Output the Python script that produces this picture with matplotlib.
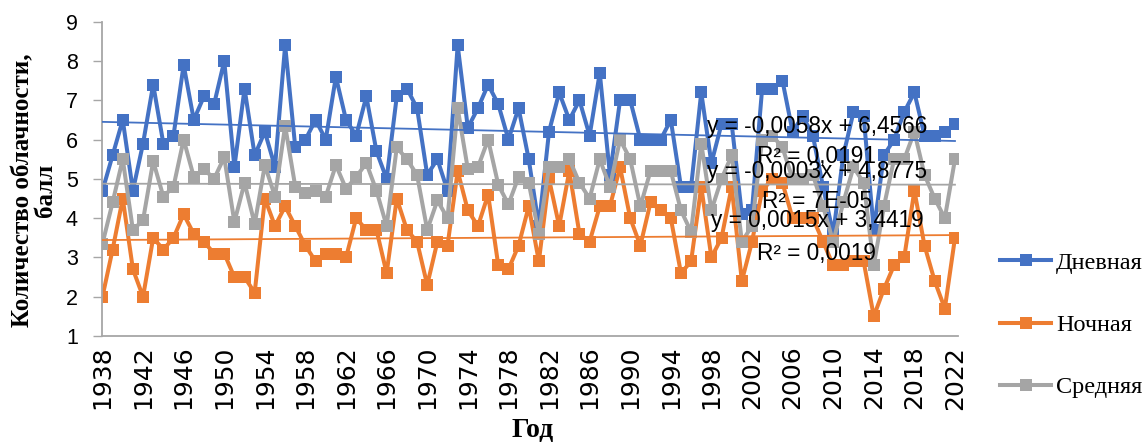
import matplotlib
matplotlib.use("Agg")
import matplotlib.pyplot as plt
import numpy as np

# Cloud cover by year, points (0-10 scale)
years = list(range(1938, 2023))

day_cloud = [
    4.7, 5.6, 6.5, 4.7, 5.9, 7.4, 5.9, 6.1, 7.9, 6.5,
    7.1, 6.9, 8.0, 5.3, 7.3, 5.6, 6.2, 5.3, 8.4, 5.8,
    6.0, 6.5, 6.0, 7.6, 6.5, 6.1, 7.1, 5.7, 5.0, 7.1,
    7.3, 6.8, 5.1, 5.5, 4.7, 8.4, 6.3, 6.8, 7.4, 6.9,
    6.0, 6.8, 5.5, 3.8, 6.2, 7.2, 6.5, 7.0, 6.1, 7.7,
    5.1, 7.0, 7.0, 6.0, 6.0, 6.0, 6.5, 4.8, 4.8, 7.2,
    5.4, 6.4, 6.4, 4.1, 4.2, 7.3, 7.3, 7.5, 6.2, 6.6,
    6.1, 4.8, 3.6, 5.6, 6.7, 6.6, 3.7, 5.6, 6.0, 6.7,
    7.2, 6.1, 6.1, 6.2, 6.4,
]

night_cloud = [
    2.0, 3.2, 4.5, 2.7, 2.0, 3.5, 3.2, 3.5, 4.1, 3.6,
    3.4, 3.1, 3.1, 2.5, 2.5, 2.1, 4.5, 3.8, 4.3, 3.8,
    3.3, 2.9, 3.1, 3.1, 3.0, 4.0, 3.7, 3.7, 2.6, 4.5,
    3.7, 3.4, 2.3, 3.4, 3.3, 5.2, 4.2, 3.8, 4.6, 2.8,
    2.7, 3.3, 4.3, 2.9, 5.0, 3.8, 5.2, 3.6, 3.4, 4.3,
    4.3, 5.3, 4.0, 3.3, 4.4, 4.2, 4.0, 2.6, 2.9, 4.8,
    3.0, 3.5, 4.8, 2.4, 3.4, 4.7, 5.0, 4.9, 4.0, 4.0,
    4.0, 3.4, 2.8, 2.8, 2.9, 2.9, 1.5, 2.2, 2.8, 3.0,
    4.7, 3.3, 2.4, 1.7, 3.5,
]

mean_cloud = [
    3.35, 4.4, 5.5, 3.7, 3.95, 5.45, 4.55, 4.8, 6.0, 5.05,
    5.25, 5.0, 5.55, 3.9, 4.9, 3.85, 5.35, 4.55, 6.35, 4.8,
    4.65, 4.7, 4.55, 5.35, 4.75, 5.05, 5.4, 4.7, 3.8, 5.8,
    5.5, 5.1, 3.7, 4.45, 4.0, 6.8, 5.25, 5.3, 6.0, 4.85,
    4.35, 5.05, 4.9, 3.6, 5.3, 5.3, 5.5, 4.9, 4.5, 5.5,
    4.8, 6.0, 5.5, 4.3, 5.2, 5.2, 5.2, 4.2, 3.65, 5.9,
    4.2, 5.0, 5.6, 3.4, 3.8, 6.0, 6.1, 5.8, 5.0, 5.0,
    5.1, 4.3, 3.4, 4.4, 5.3, 4.9, 2.8, 4.3, 5.5, 5.5,
    6.2, 5.1, 4.5, 4.0, 5.5,
]

series_names = ["Дневная", "Ночная", "Средняя"]
series_colors = ["#4472C4", "#ED7D31", "#A5A5A5"]

# Linear trends, x = 1 for the first year
trend_slope = [-0.0058, 0.0015, -0.0003]
trend_intercept = [6.4566, 3.4419, 4.8775]
trend_eq_text = ["y = -0,0058x + 6,4566", "y = 0,0015x + 3,4419", "y = -0,0003x + 4,8775"]
trend_r2_text = ["R² = 0,0191", "R² = 0,0019", "R² = 7E-05"]

x_tick_years = list(range(1938, 2023, 4))
y_ticks = list(range(1, 10))

fig = plt.figure(figsize=(11.45, 4.44), dpi=100)
ax = fig.add_axes([0.0893, 0.2432, 0.7474, 0.7079])

all_series = [day_cloud, night_cloud, mean_cloud]
for vals, name, col in zip(all_series, series_names, series_colors):
    ax.plot(years, vals, color=col, lw=2.9, marker="s", markersize=9.2,
            markeredgewidth=0, label=name, zorder=2, solid_joinstyle="round")

yrs = np.array(years, dtype=float)
idx = yrs - years[0] + 1
for k, name, col in zip(range(3), series_names, series_colors):
    ax.plot(yrs, trend_slope[k] * idx + trend_intercept[k], color=col, lw=1.3, zorder=3)

# Trend equation labels
lab_font = dict(family="Liberation Sans", fontsize=16.3, color="black",
                ha="center", va="center", zorder=5)
lab_x = 2008.4
label_y = {0: (6.33, 5.56), 2: (5.18, 4.42), 1: (3.95, 3.11)}
for k in (0, 2, 1):
    ye, yr = label_y[k]
    ax.text(lab_x, ye, trend_eq_text[k], **lab_font)
    ax.text(lab_x, yr, trend_r2_text[k], **lab_font)

ax.set_xlim(1937.98, 2022.3)
ax.set_ylim(1, 9)
ax.set_yticks(y_ticks)
ax.set_xticks(x_tick_years)
ax.set_xticklabels([str(y) for y in x_tick_years], rotation=90,
                   family="DejaVu Sans", fontsize=18)
ax.set_yticklabels([str(v) for v in y_ticks], family="Liberation Sans", fontsize=15.5)
ax.tick_params(axis="x", length=0, pad=7)
ax.tick_params(axis="y", length=6.5, width=1.0, color="#A6A6A6", pad=11)

for side in ("top", "right"):
    ax.spines[side].set_visible(False)
for side in ("left", "bottom"):
    ax.spines[side].set_color("#A6A6A6")
    ax.spines[side].set_linewidth(1.3)

fig.text(0.030, 0.572, "Количество облачности,\nбалл", rotation=90,
         ha="center", va="center", multialignment="center",
         family="Liberation Serif", fontweight="bold", fontsize=18, linespacing=0.95)
fig.text(0.465, 0.031, "Год", ha="center", va="center",
         family="Liberation Serif", fontweight="bold", fontsize=20)

leg = fig.legend(loc="center left", bbox_to_anchor=(0.863, 0.268), frameon=False,
                 prop={"family": "Liberation Serif", "size": 17.5},
                 handlelength=2.1, handletextpad=0.2, labelspacing=1.65,
                 borderpad=0, markerscale=1.0)

fig.savefig("out.png", dpi=100)
